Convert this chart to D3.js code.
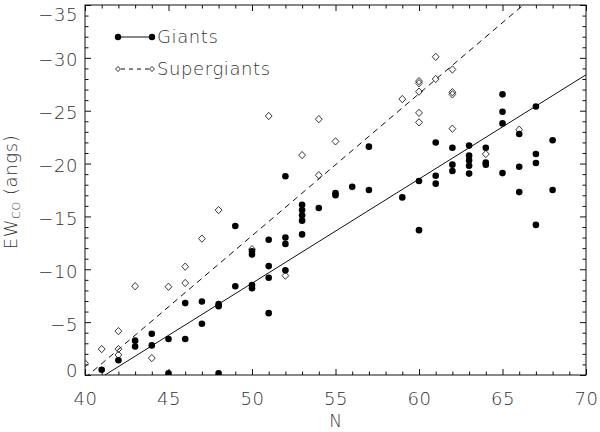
<!DOCTYPE html>
<html>
<head>
<meta charset="utf-8">
<script src="https://cdn.jsdelivr.net/npm/d3@7"></script>
<style>
  html, body { margin: 0; padding: 0; background: #fff; }
  svg text { font-family: "DejaVu Sans", sans-serif; font-weight: 200; fill: #333; }
</style>
</head>
<body>
<svg id="chart" width="600" height="432"></svg>
<script>
// ---- data ----
const giantsN  = [41,42,43,43,44,44,45,45,46,46,47,47,48,48,48,49,49,50,50,50,50,
                  51,51,51,51,52,52,52,52,53,53,53,53,53,54,55,55,56,57,57,
                  59,60,60,61,61,61,62,62,62,63,63,63,63,63,64,64,64,
                  65,65,65,65,66,66,66,67,67,67,67,68,68];
const giantsEW = [-0.5,-1.4,-3.25,-2.7,-3.9,-2.8,-3.4,-0.15,-6.8,-3.4,-6.95,-4.85,-6.7,-6.5,-0.15,-14.1,-8.4,-8.5,-8.2,-11.7,-11.4,
                  -12.8,-10.3,-9.2,-5.85,-18.8,-13.0,-12.4,-9.9,-16.1,-15.6,-15.1,-14.6,-13.3,-15.8,-17.2,-17.0,-17.8,-21.6,-17.5,
                  -16.8,-18.35,-13.7,-22.0,-18.85,-18.1,-21.5,-19.9,-19.3,-21.7,-20.75,-20.3,-19.8,-19.05,-21.5,-20.1,-19.9,
                  -26.55,-24.9,-23.8,-19.1,-22.8,-19.7,-17.3,-25.4,-20.9,-20.05,-14.2,-22.2,-17.5];
const superN   = [40,41,42,42,42,43,44,45,46,46,47,48,50,51,52,53,54,54,55,
                  59,60,60,60,60,60,61,61,62,62,62,62,64,66];
const superEW  = [-1.1,-2.45,-4.15,-2.45,-1.9,-8.4,-1.6,-8.35,-10.25,-8.7,-12.9,-15.6,-11.9,-24.5,-9.4,-20.8,-24.2,-18.9,-22.1,
                  -26.1,-27.8,-27.6,-26.8,-24.8,-23.9,-30.1,-28.0,-28.9,-26.75,-26.55,-23.3,-20.9,-23.2];
// linear fits: EW = intercept + slope * N
const giantsFit = [40.62, -0.986];
const superFit  = [54.03, -1.344];
const xMajorTicks = [40,45,50,55,60,65,70];
const yMajorTicks = [0,-5,-10,-15,-20,-25,-30,-35];
const legendLabels = ["Giants", "Supergiants"];

// ---- layout ----
const W = 600, H = 432;
const m = {left: 85, right: 14, top: 5, bottom: 57};
const pw = W - m.left - m.right, ph = H - m.top - m.bottom;
const ink = "#111";
const FS = 18;

const svg = d3.select("#chart");
const x = d3.scaleLinear().domain([40, 70]).range([m.left, m.left + pw]);
const y = d3.scaleLinear().domain([0, -35]).range([m.top + ph, m.top]);

svg.append("defs").append("clipPath").attr("id", "plotclip")
  .append("rect").attr("x", m.left).attr("y", m.top).attr("width", pw).attr("height", ph);

const xMinor = d3.range(40, 71, 1).filter(v => v % 5 !== 0);
const yMinor = d3.range(0, -36, -1).filter(v => v % 5 !== 0);

function styleAxis(g) {
  g.selectAll(".domain").remove();
  g.selectAll(".tick line").attr("stroke", ink).attr("stroke-width", 1);
  g.selectAll("text").attr("font-size", FS).attr("fill", "#333").attr("letter-spacing", 0.6);
}

// bottom
svg.append("g").attr("transform", `translate(0,${m.top+ph})`)
  .call(d3.axisBottom(x).tickValues(xMajorTicks).tickSize(-6).tickPadding(17).tickFormat(d3.format("d")))
  .call(styleAxis);
svg.append("g").attr("transform", `translate(0,${m.top+ph})`)
  .call(d3.axisBottom(x).tickValues(xMinor).tickSize(-3.5).tickFormat(""))
  .call(styleAxis);
// top
svg.append("g").attr("transform", `translate(0,${m.top})`)
  .call(d3.axisTop(x).tickValues(xMajorTicks).tickSize(-6).tickFormat(""))
  .call(styleAxis);
svg.append("g").attr("transform", `translate(0,${m.top})`)
  .call(d3.axisTop(x).tickValues(xMinor).tickSize(-3.5).tickFormat(""))
  .call(styleAxis);
// left
const yAxisG = svg.append("g").attr("transform", `translate(${m.left},0)`)
  .call(d3.axisLeft(y).tickValues(yMajorTicks).tickSize(-6).tickPadding(7).tickFormat(d => d === 0 ? "0" : "\u2212" + Math.abs(d)))
  .call(styleAxis);
// keep labels inside the vertical axis range (as the reference does)
yAxisG.selectAll(".tick text")
  .attr("dy", null)
  .attr("dominant-baseline", "central")
  .attr("y", d => Math.min(Math.max(y(d) + 1.5, m.top + 9), m.top + ph - 5.5) - y(d));
svg.append("g").attr("transform", `translate(${m.left},0)`)
  .call(d3.axisLeft(y).tickValues(yMinor).tickSize(-3.5).tickFormat(""))
  .call(styleAxis);
// right
svg.append("g").attr("transform", `translate(${m.left+pw},0)`)
  .call(d3.axisRight(y).tickValues(yMajorTicks).tickSize(-6).tickFormat(""))
  .call(styleAxis);
svg.append("g").attr("transform", `translate(${m.left+pw},0)`)
  .call(d3.axisRight(y).tickValues(yMinor).tickSize(-3.5).tickFormat(""))
  .call(styleAxis);

// frame
svg.append("rect").attr("x", m.left).attr("y", m.top).attr("width", pw).attr("height", ph)
  .attr("fill", "none").attr("stroke", ink).attr("stroke-width", 1);

// axis titles
svg.append("text").attr("x", m.left + pw/2).attr("y", 427).attr("text-anchor", "middle")
  .attr("font-size", 17).text("N");
const yt = svg.append("text").attr("transform", "translate(17,192) rotate(-90)")
  .attr("text-anchor", "middle").attr("font-size", FS).attr("letter-spacing", 0.6);
yt.append("tspan").text("EW");
yt.append("tspan").attr("font-size", 11).attr("dy", 3).text("CO");
yt.append("tspan").attr("dy", -3).text(" (angs)");

// plot content
const plot = svg.append("g").attr("clip-path", "url(#plotclip)");

function fitLine(fit) {
  return [40, 70].map(n => [x(n), y(fit[0] + fit[1] * n)]);
}
plot.append("path").attr("d", d3.line()(fitLine(giantsFit)))
  .attr("fill", "none").attr("stroke", ink).attr("stroke-width", 1);
plot.append("path").attr("d", d3.line()(fitLine(superFit)))
  .attr("fill", "none").attr("stroke", ink).attr("stroke-width", 1).attr("stroke-dasharray", "6,4.5");

const diamond = (cx, cy, r) => `M${cx},${cy-r*1.08}L${cx+r},${cy}L${cx},${cy+r*1.08}L${cx-r},${cy}Z`;

plot.selectAll("path.sg").data(superN.map((n, i) => [n, superEW[i]])).join("path")
  .attr("class", "sg")
  .attr("d", d => diamond(x(d[0]), y(d[1]), 3.4))
  .attr("fill", "none").attr("stroke", "#222").attr("stroke-width", 0.9);

plot.selectAll("circle.g").data(giantsN.map((n, i) => [n, giantsEW[i]])).join("circle")
  .attr("class", "g")
  .attr("cx", d => x(d[0])).attr("cy", d => y(d[1])).attr("r", 3.3)
  .attr("fill", "#000");

// legend
const lg = svg.append("g");
const lx0 = 118, lx1 = 152;
lg.append("line").attr("x1", lx0).attr("x2", lx1).attr("y1", 37).attr("y2", 37).attr("stroke", ink);
lg.append("circle").attr("cx", lx0).attr("cy", 37).attr("r", 3.2).attr("fill", "#000");
lg.append("circle").attr("cx", lx1).attr("cy", 37).attr("r", 3.2).attr("fill", "#000");
lg.append("text").attr("x", 157).attr("y", 43).attr("font-size", FS).attr("letter-spacing", 0.6).text(legendLabels[0]);
lg.append("line").attr("x1", lx0 + 3).attr("x2", lx1 - 3).attr("y1", 69).attr("y2", 69)
  .attr("stroke", ink).attr("stroke-dasharray", "4,4");
lg.append("path").attr("d", diamond(lx0, 69, 2.4)).attr("fill", "none").attr("stroke", "#222").attr("stroke-width", 0.9);
lg.append("path").attr("d", diamond(lx1, 69, 2.4)).attr("fill", "none").attr("stroke", "#222").attr("stroke-width", 0.9);
lg.append("text").attr("x", 157).attr("y", 75).attr("font-size", FS).attr("letter-spacing", 0.6).text(legendLabels[1]);
</script>
</body>
</html>
